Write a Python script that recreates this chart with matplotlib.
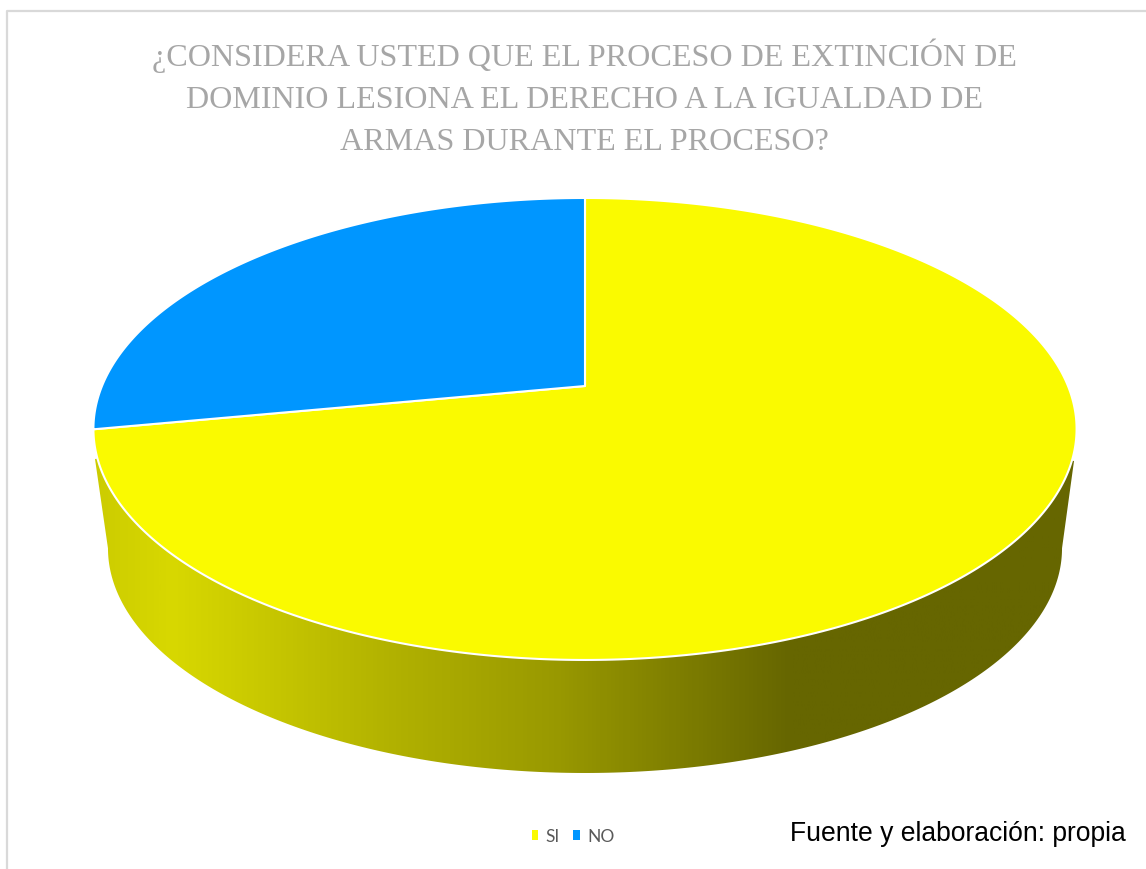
import numpy as np
import matplotlib
matplotlib.use("Agg")
import matplotlib.pyplot as plt
from matplotlib.colors import LinearSegmentedColormap
from matplotlib.patches import Patch, Polygon

# datos de la encuesta
categorias = ["SI", "NO"]
porcentajes = [72, 28]
colores = ["#fafa00", "#0096ff"]

titulo = ("¿CONSIDERA USTED QUE EL PROCESO DE EXTINCIÓN DE\n"
          "DOMINIO LESIONA EL DERECHO A LA IGUALDAD DE\n"
          "ARMAS DURANTE EL PROCESO?")
fuente = "Fuente y elaboración: propia"

# parametros de la perspectiva del disco
CX = 585
K = 0.186


def proyectar(angulos, ancho, alto, centro_y):
    # angulos medidos en sentido horario desde arriba
    u, v = np.sin(angulos), np.cos(angulos)
    return CX + ancho * u / (1 + K * v), centro_y - alto * v / (1 + K * v)


fig = plt.figure(figsize=(11.46, 8.7), dpi=100)
ax = fig.add_axes([0, 0, 1, 1])
ax.set_xlim(0, 1146)
ax.set_ylim(870, 0)
ax.axis("off")

# marco del grafico
ax.plot([7, 7, 1146], [870, 12, 12], color="#d9d9d9", linewidth=1.6)

# pared lateral con degradado
t = np.linspace(1.758, 4.525, 300)
bx, by = proyectar(t, 468.7, 217, 507.4)
pared = Polygon(np.vstack([[[1074, 462]], np.column_stack([bx, by]), [[95, 460]], [[585, 400]]]),
                closed=True, facecolor="none", edgecolor="none")
ax.add_patch(pared)
cmap = LinearSegmentedColormap.from_list(
    "pared",
    [(0.0, "#cccc00"), (0.08, "#d8d800"), (0.3, "#b2b200"), (0.47, "#999900"),
     (0.71, "#666600"), (1.0, "#666600")])
img = ax.imshow(np.linspace(0, 1, 512)[None, :], cmap=cmap, aspect="auto",
                extent=(93, 1076, 780, 400), zorder=1)
img.set_clip_path(pared)
ax.set_xlim(0, 1146)
ax.set_ylim(870, 0)

# sectores del disco superior, SI arranca en la vertical
corte = 2 * np.pi * porcentajes[0] / 100
sectores = [(0.0, corte), (corte, 2 * np.pi)]
for (a, b), color in zip(sectores, colores):
    ang = np.linspace(a, b, 400)
    x, y = proyectar(ang, 483, 223, 387)
    puntos = np.vstack([[[CX, 387]], np.column_stack([x, y])])
    ax.add_patch(Polygon(puntos, closed=True, facecolor=color, edgecolor="white",
                         linewidth=1.5, joinstyle="round", zorder=3))

ax.text(584, 98, titulo, ha="center", va="center", color="#a6a6a6", fontsize=23.1,
        family="Liberation Serif", linespacing=1.59, zorder=4)

# leyenda
marcas = [Patch(facecolor=c, edgecolor="none") for c in colores]
ax.legend(marcas, categorias, loc="center", bbox_to_anchor=(573 / 1146, 1 - 837 / 870),
          ncol=2, frameon=False, handlelength=0.38, handleheight=0.5, handletextpad=0.4,
          columnspacing=0.8, labelcolor="#595959",
          prop={"family": "Lato", "size": 12.5})

ax.text(790, 841, fuente, color="black", fontsize=19.1, family="Liberation Sans",
        ha="left", va="baseline", zorder=4)

fig.savefig("out.png", dpi=100, facecolor="white")
